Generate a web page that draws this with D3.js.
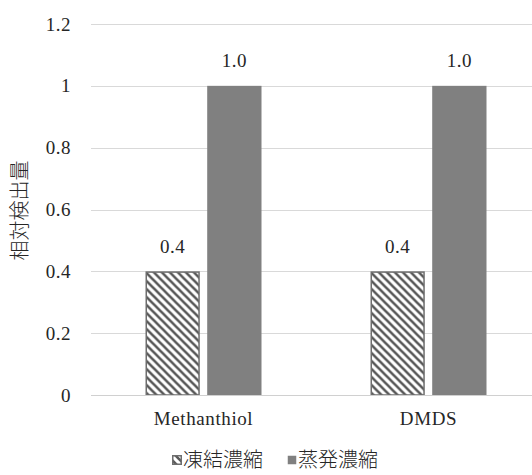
<!DOCTYPE html>
<html>
<head>
<meta charset="utf-8">
<script src="https://cdn.jsdelivr.net/npm/d3@7"></script>
<style>
  html, body { margin: 0; padding: 0; background: #fff; }
  svg { display: block; }
</style>
</head>
<body>
<svg id="chart" width="532" height="475"></svg>
<script>
// Relative detection amounts per compound and concentration method
const categories = ["Methanthiol", "DMDS"];
const seriesNames = ["凍結濃縮", "蒸発濃縮"];
const freezeValues = [0.4, 0.4];
const evapValues = [1.0, 1.0];
const yTicks = [0, 0.2, 0.4, 0.6, 0.8, 1, 1.2];
const yLabel = "相対検出量";

(function () {
const serif = "'Liberation Serif', 'DejaVu Serif', serif";
const cjk = "'Noto Sans CJK JP', sans-serif";
const ink = "#262626";

const svg = d3.select("#chart");
const W = 532;
const plotLeft = 91, plotRight = 541, plotTop = 24, plotBottom = 395;

const x = d3.scaleBand().domain(categories).range([plotLeft, plotRight]);
const inner = d3.scaleBand().domain(seriesNames).range([0, 116]).paddingInner(0.12);
const y = d3.scaleLinear().domain([0, 1.2]).range([plotBottom, plotTop]);

// Diagonal hatch for the freeze-concentration series
const defs = svg.append("defs");
const pat = defs.append("pattern")
  .attr("id", "hatch")
  .attr("patternUnits", "userSpaceOnUse")
  .attr("width", 8).attr("height", 8);
pat.append("rect").attr("width", 8).attr("height", 8).attr("fill", "#fff");
pat.append("path")
  .attr("d", "M-2,-2 L10,10 M-2,6 L2,10 M6,-2 L10,2")
  .attr("stroke", "#595959").attr("stroke-width", 2.6);

// Horizontal gridlines
svg.append("g").selectAll("line").data(yTicks).join("line")
  .attr("x1", plotLeft).attr("x2", W)
  .attr("y1", d => Math.round(y(d)) + 0.5).attr("y2", d => Math.round(y(d)) + 0.5)
  .attr("stroke", "#d9d9d9").attr("stroke-width", 1.2);

// Y axis tick labels
const yAxis = d3.axisLeft(y).tickValues(yTicks).tickSize(0).tickPadding(20)
  .tickFormat(d => d3.format("")(d));
svg.append("g").attr("transform", `translate(${plotLeft},0)`).call(yAxis)
  .call(g => g.select(".domain").remove())
  .call(g => g.attr("font-family", null).attr("font-size", null))
  .selectAll("text")
  .style("font-family", serif).style("font-size", "19px").style("letter-spacing", "0.5px")
  .attr("fill", ink);

// Y axis title
svg.append("text")
  .attr("transform", `translate(20,${(plotTop + plotBottom) / 2 + 1}) rotate(-90)`)
  .attr("text-anchor", "middle").attr("dy", "0.35em")
  .style("font-family", cjk).style("font-size", "20px").style("font-weight", 300)
  .attr("fill", ink)
  .text(yLabel);

// Bars
const rows = categories.map((c, i) => ({ c, vals: [freezeValues[i], evapValues[i]] }));
const groups = svg.append("g").selectAll("g").data(rows).join("g")
  .attr("transform", d => `translate(${x(d.c) + x.bandwidth() / 2 - 58},0)`);

groups.selectAll("rect").data(d => d.vals.map((v, k) => ({ v, s: seriesNames[k], k })))
  .join("rect")
  .attr("x", d => inner(d.s) + (d.k === 0 ? 0.75 : 0))
  .attr("width", d => inner.bandwidth() - (d.k === 0 ? 1.5 : 0))
  .attr("y", d => y(d.v) + (d.k === 0 ? 0.75 : 0))
  .attr("height", d => y(0) - y(d.v) - (d.k === 0 ? 0.75 : 0))
  .attr("fill", d => d.k === 0 ? "url(#hatch)" : "#808080")
  .attr("stroke", d => d.k === 0 ? "#6e6e6e" : "none")
  .attr("stroke-width", 1.5);

// Value labels
groups.selectAll("text").data(d => d.vals.map((v, k) => ({ v, s: seriesNames[k] })))
  .join("text")
  .attr("x", d => inner(d.s) + inner.bandwidth() / 2)
  .attr("y", d => y(d.v) - 25)
  .attr("dy", "0.35em")
  .attr("text-anchor", "middle")
  .style("font-family", serif).style("font-size", "19px").style("letter-spacing", "0.5px")
  .attr("fill", ink)
  .text(d => d3.format(".1f")(d.v));

// Baseline
svg.append("line")
  .attr("x1", plotLeft).attr("x2", W)
  .attr("y1", Math.round(y(0)) + 0.5).attr("y2", Math.round(y(0)) + 0.5)
  .attr("stroke", "#d0d0d0").attr("stroke-width", 1.2);

// Category labels
const xAxis = d3.axisBottom(x).tickSize(0).tickPadding(17);
svg.append("g").attr("transform", `translate(0,${plotBottom})`).call(xAxis)
  .call(g => g.select(".domain").remove())
  .call(g => g.attr("font-family", null).attr("font-size", null))
  .selectAll("text")
  .style("font-family", serif).style("font-size", "19px").style("letter-spacing", "0.6px")
  .attr("fill", ink);

// Legend
const legend = svg.append("g").attr("transform", "translate(172,460)");
const items = [
  { name: seriesNames[0], fill: "url(#hatch)", stroke: "#6e6e6e", dx: 0 },
  { name: seriesNames[1], fill: "#808080", stroke: "none", dx: 115 }
];
const li = legend.selectAll("g").data(items).join("g")
  .attr("transform", d => `translate(${d.dx},0)`);
li.append("rect")
  .attr("x", 0.75).attr("y", -4.25).attr("width", 8.5).attr("height", 8.5)
  .attr("fill", d => d.fill).attr("stroke", d => d.stroke).attr("stroke-width", 1.5);
li.append("text")
  .attr("x", 11).attr("y", 0).attr("dy", "0.36em")
  .style("font-family", cjk).style("font-size", "20px").style("font-weight", 300)
  .attr("fill", ink)
  .text(d => d.name);
})();
</script>
</body>
</html>
